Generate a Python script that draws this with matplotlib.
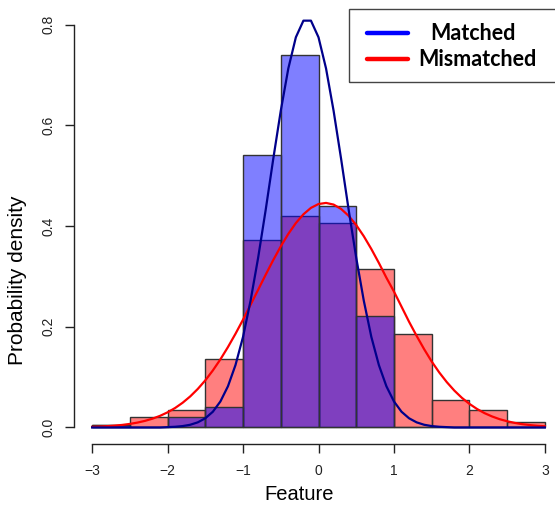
import numpy as np
import matplotlib
matplotlib.use('Agg')
import matplotlib.pyplot as plt
from matplotlib.patches import Rectangle
from matplotlib.lines import Line2D

plt.rcParams['font.family'] = ['Liberation Sans', 'DejaVu Sans']

# histogram bins (width 0.5) and densities
bin_edges = [-3.0, -2.5, -2.0, -1.5, -1.0, -0.5, 0.0, 0.5, 1.0, 1.5, 2.0, 2.5, 3.0]
matched_hist = [0.004, 0.0, 0.020, 0.040, 0.542, 0.740, 0.440, 0.222, 0.0, 0.0, 0.0, 0.0]
mismatched_hist = [0.004, 0.020, 0.035, 0.137, 0.373, 0.421, 0.407, 0.315, 0.185, 0.055, 0.035, 0.010]

# density curves, sampled every 0.1 from -3 to 3
curve_x = np.linspace(-3, 3, 61)
matched_curve = [0, 0, 0, 0, 0, 0, 0, 0, 0, 0,
                 0.0007, 0.0014, 0.0028, 0.0054, 0.0102, 0.0183, 0.0313, 0.0517, 0.0818, 0.124,
                 0.180, 0.252, 0.337, 0.432, 0.533, 0.629, 0.713, 0.775, 0.808, 0.808,
                 0.775, 0.713, 0.629, 0.533, 0.432, 0.337, 0.252, 0.180, 0.124, 0.0818,
                 0.0517, 0.0313, 0.0183, 0.0102, 0.0054, 0.0028, 0.0014, 0.0007,
                 0, 0, 0, 0, 0, 0, 0, 0, 0, 0, 0, 0, 0]
mismatched_curve = [0.0012, 0.0018, 0.0026, 0.0037, 0.0051, 0.0071, 0.0097, 0.0131, 0.0175, 0.0231,
                    0.0301, 0.0387, 0.0492, 0.0617, 0.0765, 0.0936, 0.1133, 0.1353, 0.1597, 0.1861,
                    0.2142, 0.2436, 0.2735, 0.3034, 0.3325, 0.3597, 0.3845, 0.4060, 0.4234, 0.4362,
                    0.4438, 0.4460, 0.4427, 0.4340, 0.4203, 0.4020, 0.3799, 0.3545, 0.3268, 0.2974,
                    0.2700, 0.2400, 0.2100, 0.1820, 0.1555, 0.1310, 0.1093, 0.0901, 0.0733, 0.0589,
                    0.0469, 0.0368, 0.0285, 0.0219, 0.0165, 0.0124, 0.0091, 0.0066, 0.0048, 0.0034,
                    0.0024]

fig = plt.figure(figsize=(5.55, 5.08), dpi=100)
ax = fig.add_axes([74/555, 64/508, 489/555, 446/508])

left = bin_edges[:-1]
w = np.diff(bin_edges)
ax.bar(left, mismatched_hist, width=w, align='edge', color=(1, 0, 0, 0.5),
       edgecolor='#333333', linewidth=1)
ax.bar(left, matched_hist, width=w, align='edge', color=(0, 0, 1, 0.5),
       edgecolor='#333333', linewidth=1)

ax.plot(curve_x, mismatched_curve, color='red', lw=1.6)
ax.plot(curve_x, matched_curve, color='#00008B', lw=1.6)

ax.set_xlim(-3.24, 3.24)
ax.set_ylim(-0.0328, 0.8530)
ax.set_xticks([-3, -2, -1, 0, 1, 2, 3])
ax.set_yticks([0.0, 0.2, 0.4, 0.6, 0.8])
ax.set_yticklabels(['0.0', '0.2', '0.4', '0.6', '0.8'], rotation=90, va='center')
ax.spines['top'].set_visible(False)
ax.spines['right'].set_visible(False)
ax.spines['left'].set_bounds(0, 0.8)
ax.spines['bottom'].set_bounds(-3, 3)
for s in ('left', 'bottom'):
    ax.spines[s].set_color('#222222')
    ax.spines[s].set_linewidth(1)
ax.tick_params(axis='both', direction='out', length=6.5, width=1, color='#222222',
               labelsize=10, labelcolor='#222222')
ax.tick_params(axis='x', pad=8)
ax.tick_params(axis='y', pad=7)
ax.patch.set_visible(False)

fig.text(299/555, 1 - 495/508, 'Feature', ha='center', va='center', fontsize=14.5)
fig.text(18/555, 1 - 280/508, 'Probability density', ha='center', va='center',
         rotation=90, fontsize=15)

# legend box
fig.patches.append(Rectangle((349/555, 1 - 82/508), 215/555, 73/508,
                             transform=fig.transFigure, fill=False,
                             edgecolor='#444444', linewidth=1))
for yy, col, lab, cx in [(33, 'blue', 'Matched', 473), (59, 'red', 'Mismatched', 477)]:
    fig.lines.append(Line2D([367/555, 408/555], [1 - yy/508, 1 - yy/508],
                            transform=fig.transFigure, color=col, lw=3.2,
                            solid_capstyle='round'))
    fig.text(cx/555, 1 - (yy + 1)/508, lab, ha='center', va='center',
             fontsize=15.5, fontweight='bold', family=['Lato', 'DejaVu Sans'])

fig.savefig('out.png', dpi=100)
